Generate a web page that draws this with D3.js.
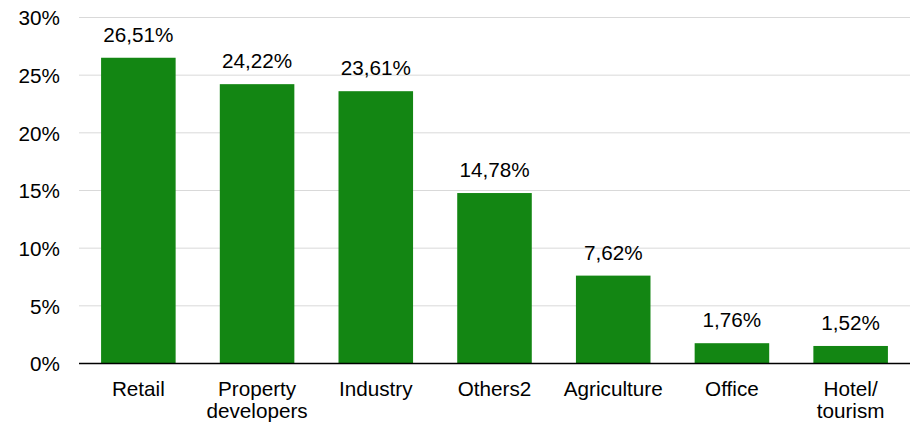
<!DOCTYPE html>
<html><head><meta charset="utf-8">
<script src="https://cdn.jsdelivr.net/npm/d3@7"></script>
<style>body{margin:0;background:#fff}svg text{font-family:"Liberation Sans",Arial,sans-serif;fill:#000}</style>
</head><body><svg id="c" width="915" height="427"></svg>
<script>
const categories = [["Retail"],["Property","developers"],["Industry"],["Others2"],["Agriculture"],["Office"],["Hotel/","tourism"]];
const values = [26.51, 24.22, 23.61, 14.78, 7.62, 1.76, 1.52];
const yTicks = [0,5,10,15,20,25,30];

const FS = "20.7px";
const svg = d3.select("#c");
const m = {l:79, r:5, t:17.5, b:63.5};
const W = 915, H = 427;
const x = d3.scaleBand().domain(d3.range(categories.length)).range([m.l, W-m.r]).paddingInner(0.372).paddingOuter(0.186);
const y = d3.scaleLinear().domain([0,30]).range([H-m.b, m.t]);

const grid = svg.append("g");
yTicks.filter(t=>t>0).forEach(t=>{
  grid.append("line").attr("x1",m.l).attr("x2",W-m.r).attr("y1",y(t)).attr("y2",y(t)).attr("stroke","#d9d9d9").attr("stroke-width",1);
});
const ya = svg.append("g").attr("transform",`translate(${m.l},0)`).call(d3.axisLeft(y).tickValues(yTicks).tickFormat(d=>d+"%").tickSize(0).tickPadding(19));
ya.select(".domain").remove();
ya.selectAll("text").style("font-size",FS).attr("dy","0.35em");

svg.append("g").selectAll("rect").data(values).join("rect")
  .attr("x",(d,i)=>x(i)).attr("width",x.bandwidth())
  .attr("y",d=>y(d)).attr("height",d=>y(0)-y(d)).attr("fill","#138613");

svg.append("g").selectAll("text").data(values).join("text")
  .attr("x",(d,i)=>x(i)+x.bandwidth()/2).attr("y",d=>y(d)-16)
  .attr("text-anchor","middle").style("font-size",FS)
  .text(d=>d.toFixed(2).replace(".",",")+"%");

svg.append("line").attr("x1",m.l).attr("x2",W-m.r).attr("y1",y(0)).attr("y2",y(0)).attr("stroke","#000").attr("stroke-width",1.5);

const xl = svg.append("g").selectAll("text").data(categories).join("text")
  .attr("text-anchor","middle").style("font-size",FS)
  .attr("x",(d,i)=>x(i)+x.bandwidth()/2).attr("y",396);
xl.selectAll("tspan").data(d=>d).join("tspan")
  .attr("x",function(){return this.parentNode.getAttribute("x");})
  .attr("dy",(d,i)=>i===0?0:22).text(d=>d);
</script></body></html>
